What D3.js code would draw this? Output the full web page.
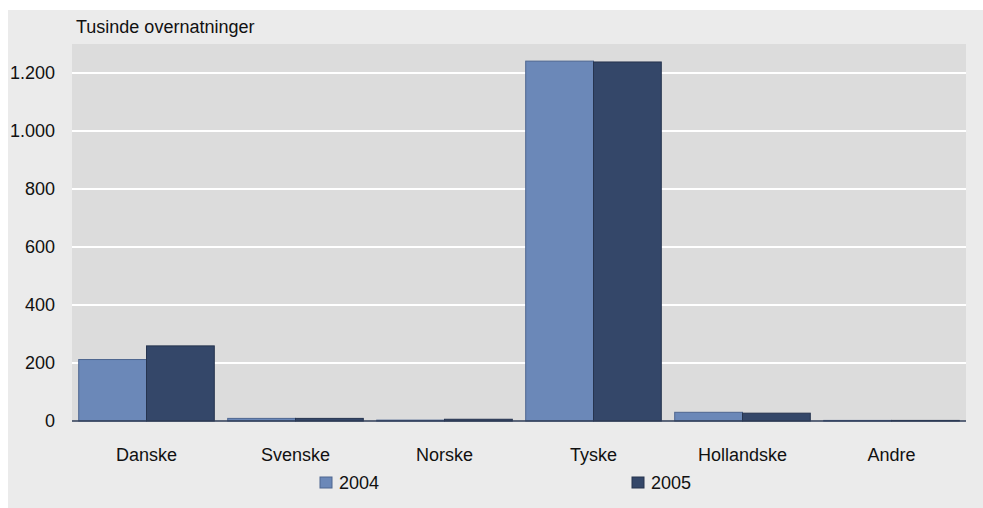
<!DOCTYPE html>
<html lang="en">
<head>
<meta charset="utf-8" />
<title>Tusinde overnatninger</title>
<script src="https://cdn.jsdelivr.net/npm/d3@7"></script>
<style>
    body { margin: 0; background: #ffffff; }
    svg { display: block; font-family: "Liberation Sans", Arial, sans-serif; }
</style>
</head>
<body>
<svg id="chart" width="983" height="508"></svg>
<script>
// data (thousands of overnight stays)
const categories = ["Danske", "Svenske", "Norske", "Tyske", "Hollandske", "Andre"];
const seriesNames = ["2004", "2005"];
const values2004 = [212, 9, 3, 1241, 30, 2];
const values2005 = [259, 9, 6, 1238, 27, 2];
const yTicks = [0, 200, 400, 600, 800, 1000, 1200];
const colors = ["#6b88b8", "#344769"];
const strokes = ["#4e6690", "#26344f"];

const svg = d3.select("#chart");
const W = 983, H = 508;
const margin = { left: 72, right: 17, top: 44, bottom: 87 };
const fontSize = 18;

// outer panel
svg.append("rect")
    .attr("x", 8).attr("y", 10)
    .attr("width", W - 8).attr("height", H - 10)
    .attr("fill", "#ebebeb");

const x = d3.scaleBand()
    .domain(categories)
    .range([margin.left, W - margin.right])
    .paddingInner(0.09)
    .paddingOuter(0.045);

const xInner = d3.scaleBand()
    .domain(seriesNames)
    .range([0, x.bandwidth()]);

const y = d3.scaleLinear()
    .domain([0, 1300])
    .range([H - margin.bottom, margin.top]);

// plot background
svg.append("rect")
    .attr("x", margin.left).attr("y", margin.top)
    .attr("width", W - margin.right - margin.left)
    .attr("height", H - margin.bottom - margin.top)
    .attr("fill", "#dcdcdc");

// y labels
const yAxis = d3.axisLeft(y)
    .tickValues(yTicks)
    .tickSize(0)
    .tickPadding(17)
    .tickFormat(d => d3.format(",")(d).replace(/,/g, "."));

const gy = svg.append("g")
    .attr("transform", `translate(${margin.left},0)`)
    .call(yAxis);
gy.select(".domain").remove();
gy.selectAll("text")
    .attr("font-size", fontSize)
    .attr("fill", "#111")
    .attr("font-family", null);

// white gridlines
svg.append("g")
    .selectAll("line")
    .data(yTicks.filter(d => d > 0))
    .join("line")
    .attr("x1", margin.left).attr("x2", W - margin.right)
    .attr("y1", d => y(d)).attr("y2", d => y(d))
    .attr("stroke", "#ffffff")
    .attr("stroke-width", 2);

// bars
const series = [values2004, values2005];
const groups = svg.append("g")
    .selectAll("g")
    .data(categories)
    .join("g")
    .attr("transform", d => `translate(${x(d)},0)`);

groups.selectAll("rect")
    .data((d, i) => seriesNames.map((s, j) => ({ s, v: series[j][i], j })))
    .join("rect")
    .attr("x", d => xInner(d.s))
    .attr("y", d => y(d.v))
    .attr("width", xInner.bandwidth())
    .attr("height", d => y(0) - y(d.v))
    .attr("fill", d => colors[d.j])
    .attr("stroke", d => strokes[d.j])
    .attr("stroke-width", 1);

// x axis line
svg.append("line")
    .attr("x1", margin.left).attr("x2", W - margin.right)
    .attr("y1", y(0)).attr("y2", y(0))
    .attr("stroke", "#2f3d57")
    .attr("stroke-width", 1.5);

// category labels
const xAxis = d3.axisBottom(x).tickSize(0).tickPadding(27);
const gx = svg.append("g")
    .attr("transform", `translate(0,${y(0)})`)
    .call(xAxis);
gx.select(".domain").remove();
gx.selectAll("text")
    .attr("font-size", fontSize)
    .attr("fill", "#111")
    .attr("font-family", null);

// axis title
svg.append("text")
    .attr("x", 76).attr("y", 33)
    .attr("font-size", fontSize)
    .attr("fill", "#111")
    .text("Tusinde overnatninger");

// legend
const legendX = [320, 632];
const legend = svg.append("g")
    .selectAll("g")
    .data(seriesNames)
    .join("g")
    .attr("transform", (d, i) => `translate(${legendX[i]},477)`);
legend.append("rect")
    .attr("width", 12).attr("height", 11)
    .attr("fill", (d, i) => colors[i])
    .attr("stroke", (d, i) => strokes[i]);
legend.append("text")
    .attr("x", 19).attr("y", 12)
    .attr("font-size", fontSize)
    .attr("fill", "#111")
    .text(d => d);
</script>
</body>
</html>
